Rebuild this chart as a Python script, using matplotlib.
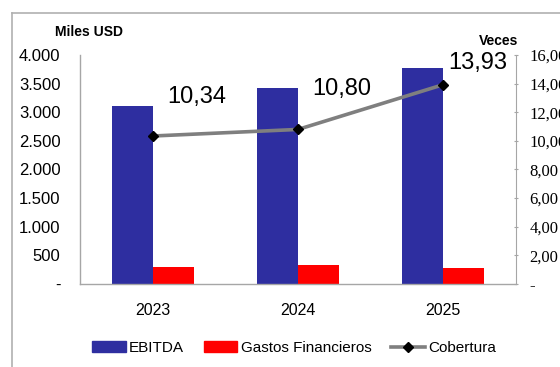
import matplotlib
matplotlib.use("Agg")
import matplotlib.pyplot as plt
from matplotlib.lines import Line2D
from matplotlib.patches import Patch
import numpy as np

# Datos
years = ["2023", "2024", "2025"]
ebitda = [3110, 3425, 3775]
gastos_fin = [300, 330, 280]
cobertura = [10.34, 10.80, 13.93]
left_ticks = [0, 500, 1000, 1500, 2000, 2500, 3000, 3500, 4000]
right_ticks = [0, 2, 4, 6, 8, 10, 12, 14, 16]

blue = "#2e2ea0"
red = "#ff0000"
gray_line = "#7f7f7f"
axis_gray = "#a6a6a6"

plt.rcParams["font.family"] = ["Liberation Sans", "DejaVu Sans"]

fig = plt.figure(figsize=(5.6, 3.67), dpi=100)
ax = fig.add_axes([0.1429, 0.2262, 0.7785, 0.6239])

x = np.arange(len(years))
w = 0.283
ax.bar(x - w / 2, ebitda, width=w, color=blue, zorder=2)
ax.bar(x + w / 2, gastos_fin, width=w, color=red, zorder=2)
ax.set_xlim(-0.5, 2.5)
ax.set_ylim(0, 4000)
ax.set_yticks(left_ticks)
ax.set_yticklabels(["-" if v == 0 else f"{v:,}".replace(",", ".") for v in left_ticks])
ax.tick_params(axis="y", length=0, pad=14, labelsize=12)
ax.set_xticks(x)
ax.set_xticklabels(years)
ax.tick_params(axis="x", length=0, pad=14, labelsize=11.5)
for s in ["top", "right"]:
    ax.spines[s].set_visible(False)
for s in ["left", "bottom"]:
    ax.spines[s].set_color(axis_gray)
    ax.spines[s].set_linewidth(1.0)

ax2 = ax.twinx()
ax2.set_ylim(0, 16)
ax2.set_yticks(right_ticks)
ax2.set_yticklabels(["-" if v == 0 else f"{v:.2f}".replace(".", ",") for v in right_ticks],
                    family=["Liberation Serif", "DejaVu Serif"])
ax2.tick_params(axis="y", length=3, width=0.8, color=axis_gray, direction="inout",
                pad=8, labelsize=12)
for s in ["top", "left", "bottom"]:
    ax2.spines[s].set_visible(False)
ax2.spines["right"].set_color(axis_gray)
ax2.plot(x, cobertura, color=gray_line, lw=2.6, marker="D", ms=5,
         mfc="black", mec="black", zorder=3)

offsets = [(44, 39), (44, 40), (34, 22)]
for xi, v, off in zip(x, cobertura, offsets):
    ax2.annotate(f"{v:.2f}".replace(".", ","), (xi, v), xytext=off,
                 textcoords="offset pixels", ha="center", va="center",
                 fontsize=17, color="black")

fig.text(55 / 560, 1 - 32 / 367, "Miles USD", fontsize=10, fontweight="bold",
         ha="left", va="center")
fig.text(518 / 560, 1 - 41 / 367, "Veces", fontsize=10, fontweight="bold",
         ha="right", va="center")

handles = [Patch(color=blue, label="EBITDA"),
           Patch(color=red, label="Gastos Financieros"),
           Line2D([], [], color=gray_line, lw=2.6, marker="D", ms=5,
                  mfc="black", mec="black", label="Cobertura")]
fig.legend(handles=handles, loc="center", bbox_to_anchor=(294 / 560, 1 - 348 / 367),
           ncol=3, frameon=False, fontsize=11, handlelength=2.2, handletextpad=0.2,
           columnspacing=1.3)

# marco exterior
fig.add_artist(Line2D([12 / 560, 1], [1 - 13 / 367, 1 - 13 / 367],
                      transform=fig.transFigure, color="#b0b0b0", lw=1.2))
fig.add_artist(Line2D([12 / 560, 12 / 560], [0, 1 - 13 / 367],
                      transform=fig.transFigure, color="#b0b0b0", lw=1.2))

fig.savefig("out.png", dpi=100)
